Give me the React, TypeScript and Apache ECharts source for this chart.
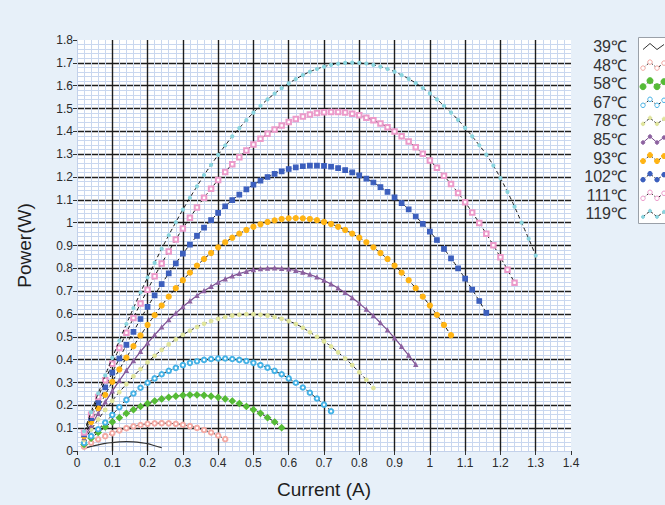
import React, { useEffect, useRef } from "react";
import * as echarts from "echarts";

const current = [
  0.02, 0.04, 0.06, 0.08, 0.1, 0.12, 0.14, 0.16, 0.18, 0.2, 0.22, 0.24, 0.26, 0.28, 0.3, 0.32, 0.34, 0.36, 0.38, 0.4,
  0.42, 0.44, 0.46, 0.48, 0.5, 0.52, 0.54, 0.56, 0.58, 0.6, 0.62, 0.64, 0.66, 0.68, 0.7, 0.72, 0.74, 0.76, 0.78, 0.8,
  0.82, 0.84, 0.86, 0.88, 0.9, 0.92, 0.94, 0.96, 0.98, 1.0, 1.02, 1.04, 1.06, 1.08, 1.1, 1.12, 1.14, 1.16, 1.18, 1.2,
  1.22, 1.24, 1.26, 1.28, 1.3,
];

const seriesNames = ["39℃", "48℃", "58℃", "67℃", "78℃", "85℃", "93℃", "102℃", "111℃", "119℃"];

const p39 = [0.01, 0.02, 0.027, 0.033, 0.037, 0.04, 0.041, 0.04, 0.037, 0.032, 0.023, 0.015];
const p48 = [
  0.019, 0.036, 0.051, 0.065, 0.078, 0.09, 0.1, 0.108, 0.114, 0.119, 0.121, 0.122, 0.121, 0.119, 0.115, 0.109, 0.101,
  0.092, 0.081, 0.068, 0.052,
];
const p58 = [
  0.029, 0.056, 0.081, 0.105, 0.127, 0.146, 0.165, 0.181, 0.195, 0.208, 0.219, 0.228, 0.235, 0.24, 0.244, 0.246,
  0.246, 0.244, 0.24, 0.235, 0.228, 0.219, 0.208, 0.195, 0.181, 0.165, 0.146, 0.127, 0.102,
];
const p67 = [
  0.035, 0.065, 0.095, 0.125, 0.158, 0.192, 0.224, 0.252, 0.277, 0.299, 0.318, 0.336, 0.351, 0.364, 0.376, 0.386,
  0.393, 0.399, 0.403, 0.405, 0.405, 0.403, 0.399, 0.394, 0.386, 0.376, 0.365, 0.351, 0.336, 0.318, 0.299, 0.278,
  0.255, 0.23, 0.203, 0.174,
];
const p78 = [
  0.048, 0.094, 0.138, 0.18, 0.22, 0.258, 0.293, 0.327, 0.359, 0.389, 0.417, 0.443, 0.467, 0.489, 0.509, 0.527,
  0.543, 0.557, 0.569, 0.579, 0.587, 0.593, 0.597, 0.599, 0.599, 0.597, 0.593, 0.587, 0.579, 0.569, 0.556, 0.54,
  0.52, 0.5, 0.48, 0.458, 0.432, 0.405, 0.376, 0.345, 0.312, 0.276,
];
const p85 = [
  0.057, 0.111, 0.164, 0.214, 0.262, 0.308, 0.352, 0.395, 0.435, 0.472, 0.508, 0.542, 0.574, 0.603, 0.631, 0.656,
  0.68, 0.701, 0.72, 0.738, 0.753, 0.766, 0.777, 0.786, 0.793, 0.797, 0.8, 0.801, 0.799, 0.796, 0.79, 0.782, 0.773,
  0.761, 0.747, 0.731, 0.713, 0.693, 0.671, 0.646, 0.62, 0.592, 0.561, 0.529, 0.494, 0.457, 0.419, 0.378,
];
const p93 = [
  0.065, 0.127, 0.188, 0.246, 0.303, 0.357, 0.409, 0.459, 0.506, 0.552, 0.595, 0.637, 0.676, 0.713, 0.748, 0.781,
  0.812, 0.841, 0.867, 0.892, 0.914, 0.934, 0.952, 0.968, 0.982, 0.993, 1.003, 1.01, 1.016, 1.019, 1.02, 1.019,
  1.016, 1.011, 1.003, 0.994, 0.982, 0.968, 0.952, 0.934, 0.914, 0.892, 0.867, 0.841, 0.812, 0.781, 0.748, 0.713,
  0.676, 0.637, 0.596, 0.552, 0.507,
];
const p102 = [
  0.073, 0.144, 0.212, 0.279, 0.343, 0.405, 0.465, 0.522, 0.578, 0.631, 0.682, 0.731, 0.778, 0.822, 0.864, 0.904,
  0.942, 0.978, 1.011, 1.043, 1.072, 1.099, 1.123, 1.146, 1.166, 1.184, 1.2, 1.214, 1.225, 1.235, 1.242, 1.247,
  1.25, 1.25, 1.249, 1.245, 1.239, 1.23, 1.22, 1.207, 1.193, 1.176, 1.156, 1.135, 1.111, 1.086, 1.058, 1.027, 0.995,
  0.961, 0.924, 0.885, 0.844, 0.8, 0.755, 0.707, 0.657, 0.605,
];
const p111 = [
  0.081, 0.159, 0.236, 0.31, 0.382, 0.451, 0.518, 0.583, 0.646, 0.706, 0.765, 0.821, 0.874, 0.926, 0.975, 1.022,
  1.066, 1.109, 1.149, 1.187, 1.222, 1.256, 1.287, 1.316, 1.342, 1.367, 1.389, 1.408, 1.426, 1.441, 1.454, 1.465,
  1.474, 1.48, 1.484, 1.485, 1.485, 1.482, 1.477, 1.47, 1.46, 1.448, 1.434, 1.418, 1.399, 1.378, 1.355, 1.33, 1.302,
  1.272, 1.24, 1.205, 1.169, 1.13, 1.089, 1.045, 0.999, 0.951, 0.901, 0.848, 0.794, 0.737,
];
const p119 = [
  0.086, 0.17, 0.252, 0.331, 0.408, 0.483, 0.556, 0.626, 0.694, 0.76, 0.824, 0.886, 0.945, 1.002, 1.057, 1.109,
  1.159, 1.208, 1.253, 1.297, 1.338, 1.378, 1.414, 1.449, 1.482, 1.512, 1.54, 1.565, 1.589, 1.61, 1.629, 1.646,
  1.661, 1.673, 1.683, 1.691, 1.696, 1.7, 1.701, 1.7, 1.697, 1.691, 1.683, 1.673, 1.661, 1.646, 1.63, 1.611, 1.59,
  1.566, 1.54, 1.512, 1.482, 1.45, 1.415, 1.378, 1.339, 1.298, 1.25, 1.195, 1.135, 1.07, 1.0, 0.93, 0.856,
];

const powers = [p39, p48, p58, p67, p78, p85, p93, p102, p111, p119];

const markerColors = ["#333333", "#f3aaa4", "#55bb36", "#45b2e6", "#dfe49c", "#8d62a0", "#ffb414", "#3c5fbd", "#ec9aca", "#8ad4de"];
const symbols = ["none", "emptyCircle", "diamond", "emptyCircle", "circle", "triangle", "circle", "rect", "emptyRect", "circle"];
const symbolSizes = [0, 4.5, 6, 4.5, 3.5, 3.5, 5, 4.5, 4.5, 3];

const FONT = "'Liberation Sans', Arial, sans-serif";

export default function App() {
  const ref = useRef<HTMLDivElement>(null);
  useEffect(() => {
    if (!ref.current) return;
    const chart = echarts.init(ref.current, null, { renderer: "svg" });

    const series = powers.map((arr, si) => {
      const solid = si === 0 || si === 5;
      return {
        name: seriesNames[si],
        type: "line",
        smooth: true,
        data: arr.map((p, i) => [current[i], p]),
        showSymbol: symbols[si] !== "none",
        symbol: symbols[si] === "none" ? "circle" : symbols[si],
        symbolSize: symbolSizes[si],
        itemStyle: { color: markerColors[si], borderColor: markerColors[si], borderWidth: 1.2 },
        lineStyle: solid
          ? { color: si === 0 ? "#333" : "#7a4d8f", width: 1.2 }
          : { color: "#111", width: 1, type: [4, 3] },
        z: 3 + si,
      };
    });

    const legendGraphics: any[] = [
      {
        type: "rect",
        shape: { x: 638.5, y: 37.5, width: 40, height: 186 },
        style: { fill: "#fff", stroke: "#9aa0a8", lineWidth: 1 },
        z: 10,
      },
    ];
    seriesNames.forEach((n, i) => {
      const y = 46.5 + i * 18.6;
      legendGraphics.push({
        type: "text",
        x: 627,
        y,
        style: { text: n, font: `16px ${FONT}`, fill: "#333", align: "right", verticalAlign: "middle" },
        z: 11,
      });
      const pts = [
        [643, y + 3],
        [650, y - 3],
        [657, y + 3],
        [664, y - 2],
      ];
      const solid = i === 0 || i === 5;
      legendGraphics.push({
        type: "polyline",
        shape: { points: pts },
        style: {
          stroke: i === 0 ? "#333" : i === 5 ? "#7a4d8f" : "#222",
          lineWidth: 1,
          lineDash: solid ? null : [3, 2],
          fill: null,
        },
        z: 11,
      });
      if (symbols[i] !== "none") {
        pts.forEach((p) => {
          legendGraphics.push({
            type: "circle",
            shape: { cx: p[0], cy: p[1], r: Math.max(symbolSizes[i] / 2, 1.6) },
            style: {
              fill: symbols[i].startsWith("empty") ? "#fff" : markerColors[i],
              stroke: markerColors[i],
              lineWidth: 1,
            },
            z: 12,
          });
        });
      }
    });

    const axisCommon = {
      type: "value" as const,
      axisLine: { show: true, lineStyle: { color: "#c3d1ea", width: 1 } },
      axisTick: { show: true, length: 4, lineStyle: { color: "#333", width: 1 } },
      axisLabel: { color: "#2a2a2a", fontSize: 12, fontFamily: FONT },
      splitLine: { show: true, showMinLine: false, showMaxLine: false, lineStyle: { color: "#1e1e1e", width: 1.4 } },
      minorTick: { show: false, splitNumber: 5 },
      minorSplitLine: { show: true, lineStyle: { color: "#c9d7ef", width: 1 } },
      nameLocation: "middle" as const,
      nameTextStyle: { color: "#1e1e1e", fontSize: 19, fontFamily: FONT },
    };

    chart.setOption({
      animation: false,
      backgroundColor: "#e7f0f9",
      textStyle: { fontFamily: FONT },
      grid: {
        left: 77,
        top: 40,
        width: 494,
        height: 411,
        show: true,
        backgroundColor: "#ffffff",
        borderWidth: 0,
      },
      xAxis: {
        ...axisCommon,
        min: 0,
        max: 1.4,
        interval: 0.1,
        name: "Current (A)",
        nameGap: 29,
        axisLabel: { ...axisCommon.axisLabel, margin: 6 },
      },
      yAxis: {
        ...axisCommon,
        min: 0,
        max: 1.8,
        interval: 0.1,
        name: "Power(W)",
        nameGap: 43,
        axisLabel: { ...axisCommon.axisLabel, margin: 4 },
      },
      series,
      graphic: legendGraphics,
    });

    return () => chart.dispose();
  }, []);

  return (
    <div
      ref={ref}
      style={{ position: "fixed", left: 0, top: 0, width: 665, height: 505 }}
    />
  );
}
